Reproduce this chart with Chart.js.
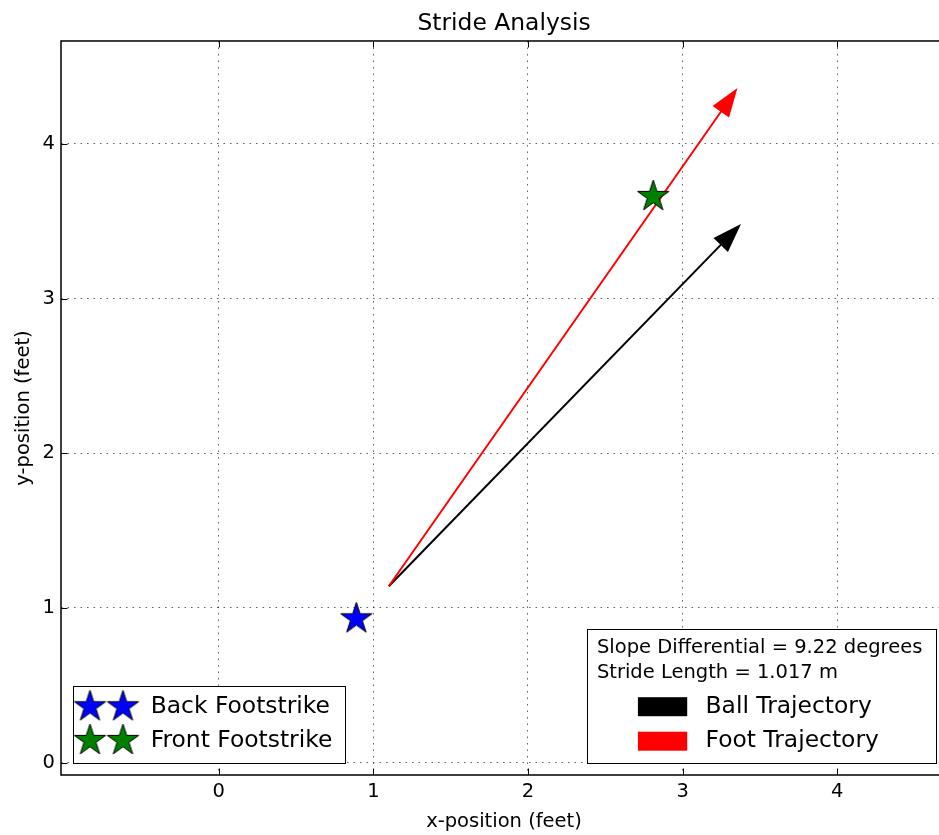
<!DOCTYPE html>
<html>
<head>
<meta charset="utf-8">
<title>Stride Analysis</title>
<script src="https://cdn.jsdelivr.net/npm/chart.js@4/dist/chart.umd.min.js"></script>
<style>
  html, body { margin: 0; padding: 0; background: #fff; overflow: hidden; }
  #wrap { width: 1000px; height: 835px; }
</style>
</head>
<body>
<div id="wrap"><canvas id="chart"></canvas></div>
<script>
// Footstrike positions (feet)
const backFootstrike = [0.89, 0.93];
const frontFootstrike = [2.81, 3.66];

// Trajectory arrows: shared origin and shaft offsets (feet)
const trajectoryOrigin = [1.10, 1.14];
const ballTrajectory = [2.15, 2.21];
const footTrajectory = [2.15, 3.071];

// Axis extents and tick values (feet)
const xRange = [-1.02, 4.71];
const yRange = [-0.08, 4.665];
const xTicks = [0, 1, 2, 3, 4];
const yTicks = [0, 1, 2, 3, 4];

// Text
const markerLabels = ['Back Footstrike', 'Front Footstrike'];
const trajectoryLabels = ['Ball Trajectory', 'Foot Trajectory'];
const summaryLines = ['Slope Differential = 9.22 degrees', 'Stride Length = 1.017 m'];

const FONT = '"DejaVu Sans", "Liberation Sans", sans-serif';
const BIG = 23.4;   // title / legend entries
const MID = 19.5;   // ticks / axis titles / summary lines
const PLOT_RIGHT = 947;  // right edge of the plot area (runs past the visible page)
const HEIGHT = 835;

Chart.defaults.font.family = FONT;
Chart.defaults.color = '#000';

// Filled five-point star marker with a thin black edge
function makeStar(fill) {
  const R = 16.5, r = R * 0.381966, pad = 3;
  const c = document.createElement('canvas');
  c.width = c.height = 2 * (R + pad);
  const g = c.getContext('2d');
  g.translate(R + pad, R + pad);
  g.beginPath();
  for (let k = 0; k < 10; k++) {
    const a = -Math.PI / 2 + k * Math.PI / 5;
    const rad = k % 2 ? r : R;
    g.lineTo(rad * Math.cos(a), rad * Math.sin(a));
  }
  g.closePath();
  g.fillStyle = fill;
  g.fill();
  g.lineWidth = 1;
  g.strokeStyle = '#000';
  g.stroke();
  return c;
}
const blueStar = makeStar('#0000ff');
const greenStar = makeStar('#008000');

const pt = p => ({ x: p[0], y: p[1] });
const arrowData = (o, d) => [pt(o), { x: o[0] + d[0], y: o[1] + d[1] }];

// Arrowheads at the end of each trajectory shaft
const arrowHeads = {
  id: 'arrowHeads',
  afterDatasetsDraw(chart) {
    const ctx = chart.ctx;
    chart.data.datasets.forEach((ds, i) => {
      if (!ds.arrowHead) return;
      const meta = chart.getDatasetMeta(i);
      const a = meta.data[0], b = meta.data[1];
      const dx = b.x - a.x, dy = b.y - a.y;
      const len = Math.hypot(dx, dy);
      const ux = dx / len, uy = dy / len;
      const L = 26, W = 9;
      ctx.save();
      ctx.beginPath();
      ctx.moveTo(b.x + ux * L, b.y + uy * L);
      ctx.lineTo(b.x - uy * W, b.y + ux * W);
      ctx.lineTo(b.x + uy * W, b.y - ux * W);
      ctx.closePath();
      ctx.fillStyle = ds.borderColor;
      ctx.strokeStyle = ds.borderColor;
      ctx.lineWidth = 1.5;
      ctx.lineJoin = 'miter';
      ctx.fill();
      ctx.stroke();
      ctx.restore();
    });
  }
};

// Axes frame on all four sides with inward tick marks
const frame = {
  id: 'frame',
  afterDatasetsDraw(chart) {
    const { ctx, chartArea: ca, scales } = chart;
    const T = 6.5;
    ctx.save();
    ctx.strokeStyle = '#000';
    ctx.lineWidth = 1;
    ctx.beginPath();
    xTicks.forEach(v => {
      const x = Math.round(scales.x.getPixelForValue(v)) + 0.5;
      ctx.moveTo(x, ca.bottom); ctx.lineTo(x, ca.bottom - T);
      ctx.moveTo(x, ca.top); ctx.lineTo(x, ca.top + T);
    });
    yTicks.forEach(v => {
      const y = Math.round(scales.y.getPixelForValue(v)) + 0.5;
      ctx.moveTo(ca.left, y); ctx.lineTo(ca.left + T, y);
      ctx.moveTo(ca.right, y); ctx.lineTo(ca.right - T, y);
    });
    ctx.stroke();
    ctx.lineWidth = 1.5;
    ctx.strokeRect(ca.left, ca.top, ca.right - ca.left, ca.bottom - ca.top);
    ctx.restore();
  }
};

function legendFrame(ctx, x, y, w, h) {
  const x0 = Math.round(x) + 0.5, y0 = Math.round(y) + 0.5;
  const w0 = Math.round(w), h0 = Math.round(h);
  ctx.fillStyle = '#fff';
  ctx.fillRect(x0, y0, w0, h0);
  ctx.strokeStyle = '#000';
  ctx.lineWidth = 1;
  ctx.strokeRect(x0, y0, w0, h0);
}

// Two legend boxes: markers (lower left) and summary + trajectories (lower right)
const legendBoxes = {
  id: 'legendBoxes',
  afterDraw(chart) {
    const { ctx, chartArea: ca } = chart;
    ctx.save();
    ctx.textBaseline = 'middle';
    ctx.textAlign = 'left';

    // lower left
    ctx.font = BIG + 'px ' + FONT;
    const mw = Math.max(...markerLabels.map(t => ctx.measureText(t).width));
    const lh = 77.3, lw = 78 + mw + 12.5;
    const lx = ca.left + 11.7, ly = ca.bottom - 11.7 - lh;
    legendFrame(ctx, lx, ly, lw, lh);
    const stars = [blueStar, greenStar];
    const rows = [20.7, 54.5];
    markerLabels.forEach((t, i) => {
      const cy = ly + rows[i];
      [17.3, 50.3].forEach(dx => {
        const s = stars[i];
        ctx.drawImage(s, lx + dx - s.width / 2, cy - s.height / 2);
      });
      ctx.fillStyle = '#000';
      ctx.fillText(t, lx + 78, cy);
    });

    // lower right
    ctx.font = MID + 'px ' + FONT;
    const sw = Math.max(...summaryLines.map(t => ctx.measureText(t).width));
    ctx.font = BIG + 'px ' + FONT;
    const tw = Math.max(...trajectoryLabels.map(t => ctx.measureText(t).width));
    const rh = 134, rw = Math.max(10 + sw, 118.6 + tw) + 14;
    const rx = ca.right - 10.7 - rw, ry = ca.bottom - 11.7 - rh;
    legendFrame(ctx, rx, ry, rw, rh);
    ctx.fillStyle = '#000';
    ctx.font = MID + 'px ' + FONT;
    [18.2, 43.2].forEach((dy, i) => ctx.fillText(summaryLines[i], rx + 10, ry + dy));
    ctx.font = BIG + 'px ' + FONT;
    const colors = ['#000000', '#ff0000'];
    [77.4, 111.9].forEach((dy, i) => {
      const cy = ry + dy;
      ctx.fillStyle = colors[i];
      ctx.fillRect(rx + 51, cy - 9.5, 49.3, 19);
      ctx.fillStyle = '#000';
      ctx.fillText(trajectoryLabels[i], rx + 118.6, cy);
    });
    ctx.restore();
  }
};

function chartConfig() {
  const gridStyle = { color: 'rgba(0,0,0,0.6)', lineWidth: 1, drawTicks: false };
  const gridBorder = { display: false, dash: [1.6, 4.9] };
  return {
    type: 'scatter',
    data: {
      datasets: [
        { label: markerLabels[0], data: [pt(backFootstrike)], pointStyle: blueStar, pointRadius: 16 },
        { label: markerLabels[1], data: [pt(frontFootstrike)], pointStyle: greenStar, pointRadius: 16 },
        { label: trajectoryLabels[1], data: arrowData(trajectoryOrigin, footTrajectory), showLine: true,
          borderColor: '#ff0000', borderWidth: 2, pointRadius: 0, arrowHead: true },
        { label: trajectoryLabels[0], data: arrowData(trajectoryOrigin, ballTrajectory), showLine: true,
          borderColor: '#000000', borderWidth: 2, pointRadius: 0, arrowHead: true }
      ]
    },
    options: {
      responsive: false,
      animation: false,
      events: [],
      layout: { padding: 0 },
      plugins: {
        legend: { display: false },
        tooltip: { enabled: false },
        title: {
          display: true, text: 'Stride Analysis', fullSize: false, color: '#000',
          font: { size: BIG, weight: 'normal' }, padding: { top: 10, bottom: 2.9 }
        }
      },
      scales: {
        x: {
          type: 'linear', min: xRange[0], max: xRange[1],
          afterBuildTicks: s => { s.ticks = xTicks.map(v => ({ value: v })); },
          afterFit: s => { s.height = 60; s.paddingLeft = 0; s.paddingRight = 0; },
          ticks: { font: { size: MID }, color: '#000', padding: 5.5, maxRotation: 0, callback: v => String(v) },
          grid: gridStyle, border: gridBorder,
          title: { display: true, text: 'x-position (feet)', color: '#000', font: { size: MID }, padding: { top: 0, bottom: 1.5 } }
        },
        y: {
          type: 'linear', min: yRange[0], max: yRange[1],
          afterBuildTicks: s => { s.ticks = yTicks.map(v => ({ value: v })); },
          afterFit: s => { s.width = 61; s.paddingTop = 0; s.paddingBottom = 0; },
          ticks: { font: { size: MID }, color: '#000', padding: 6, callback: v => String(v) },
          grid: gridStyle, border: gridBorder,
          title: { display: true, text: 'y-position (feet)', color: '#000', font: { size: MID }, padding: { top: 12, bottom: 0 } }
        }
      }
    },
    plugins: [arrowHeads, frame, legendBoxes]
  };
}

function build(width) {
  const cv = document.getElementById('chart');
  cv.width = width;
  cv.height = HEIGHT;
  cv.style.width = width + 'px';
  cv.style.height = HEIGHT + 'px';
  return new Chart(cv, chartConfig());
}

// Widen the canvas until the plot's right edge sits where it should
let width = 950;
let chart = build(width);
for (let i = 0; i < 3; i++) {
  const shift = PLOT_RIGHT - chart.chartArea.right;
  if (Math.abs(shift) < 0.5) break;
  width = Math.round(width + shift);
  chart.destroy();
  chart = build(width);
}
</script>
</body>
</html>
